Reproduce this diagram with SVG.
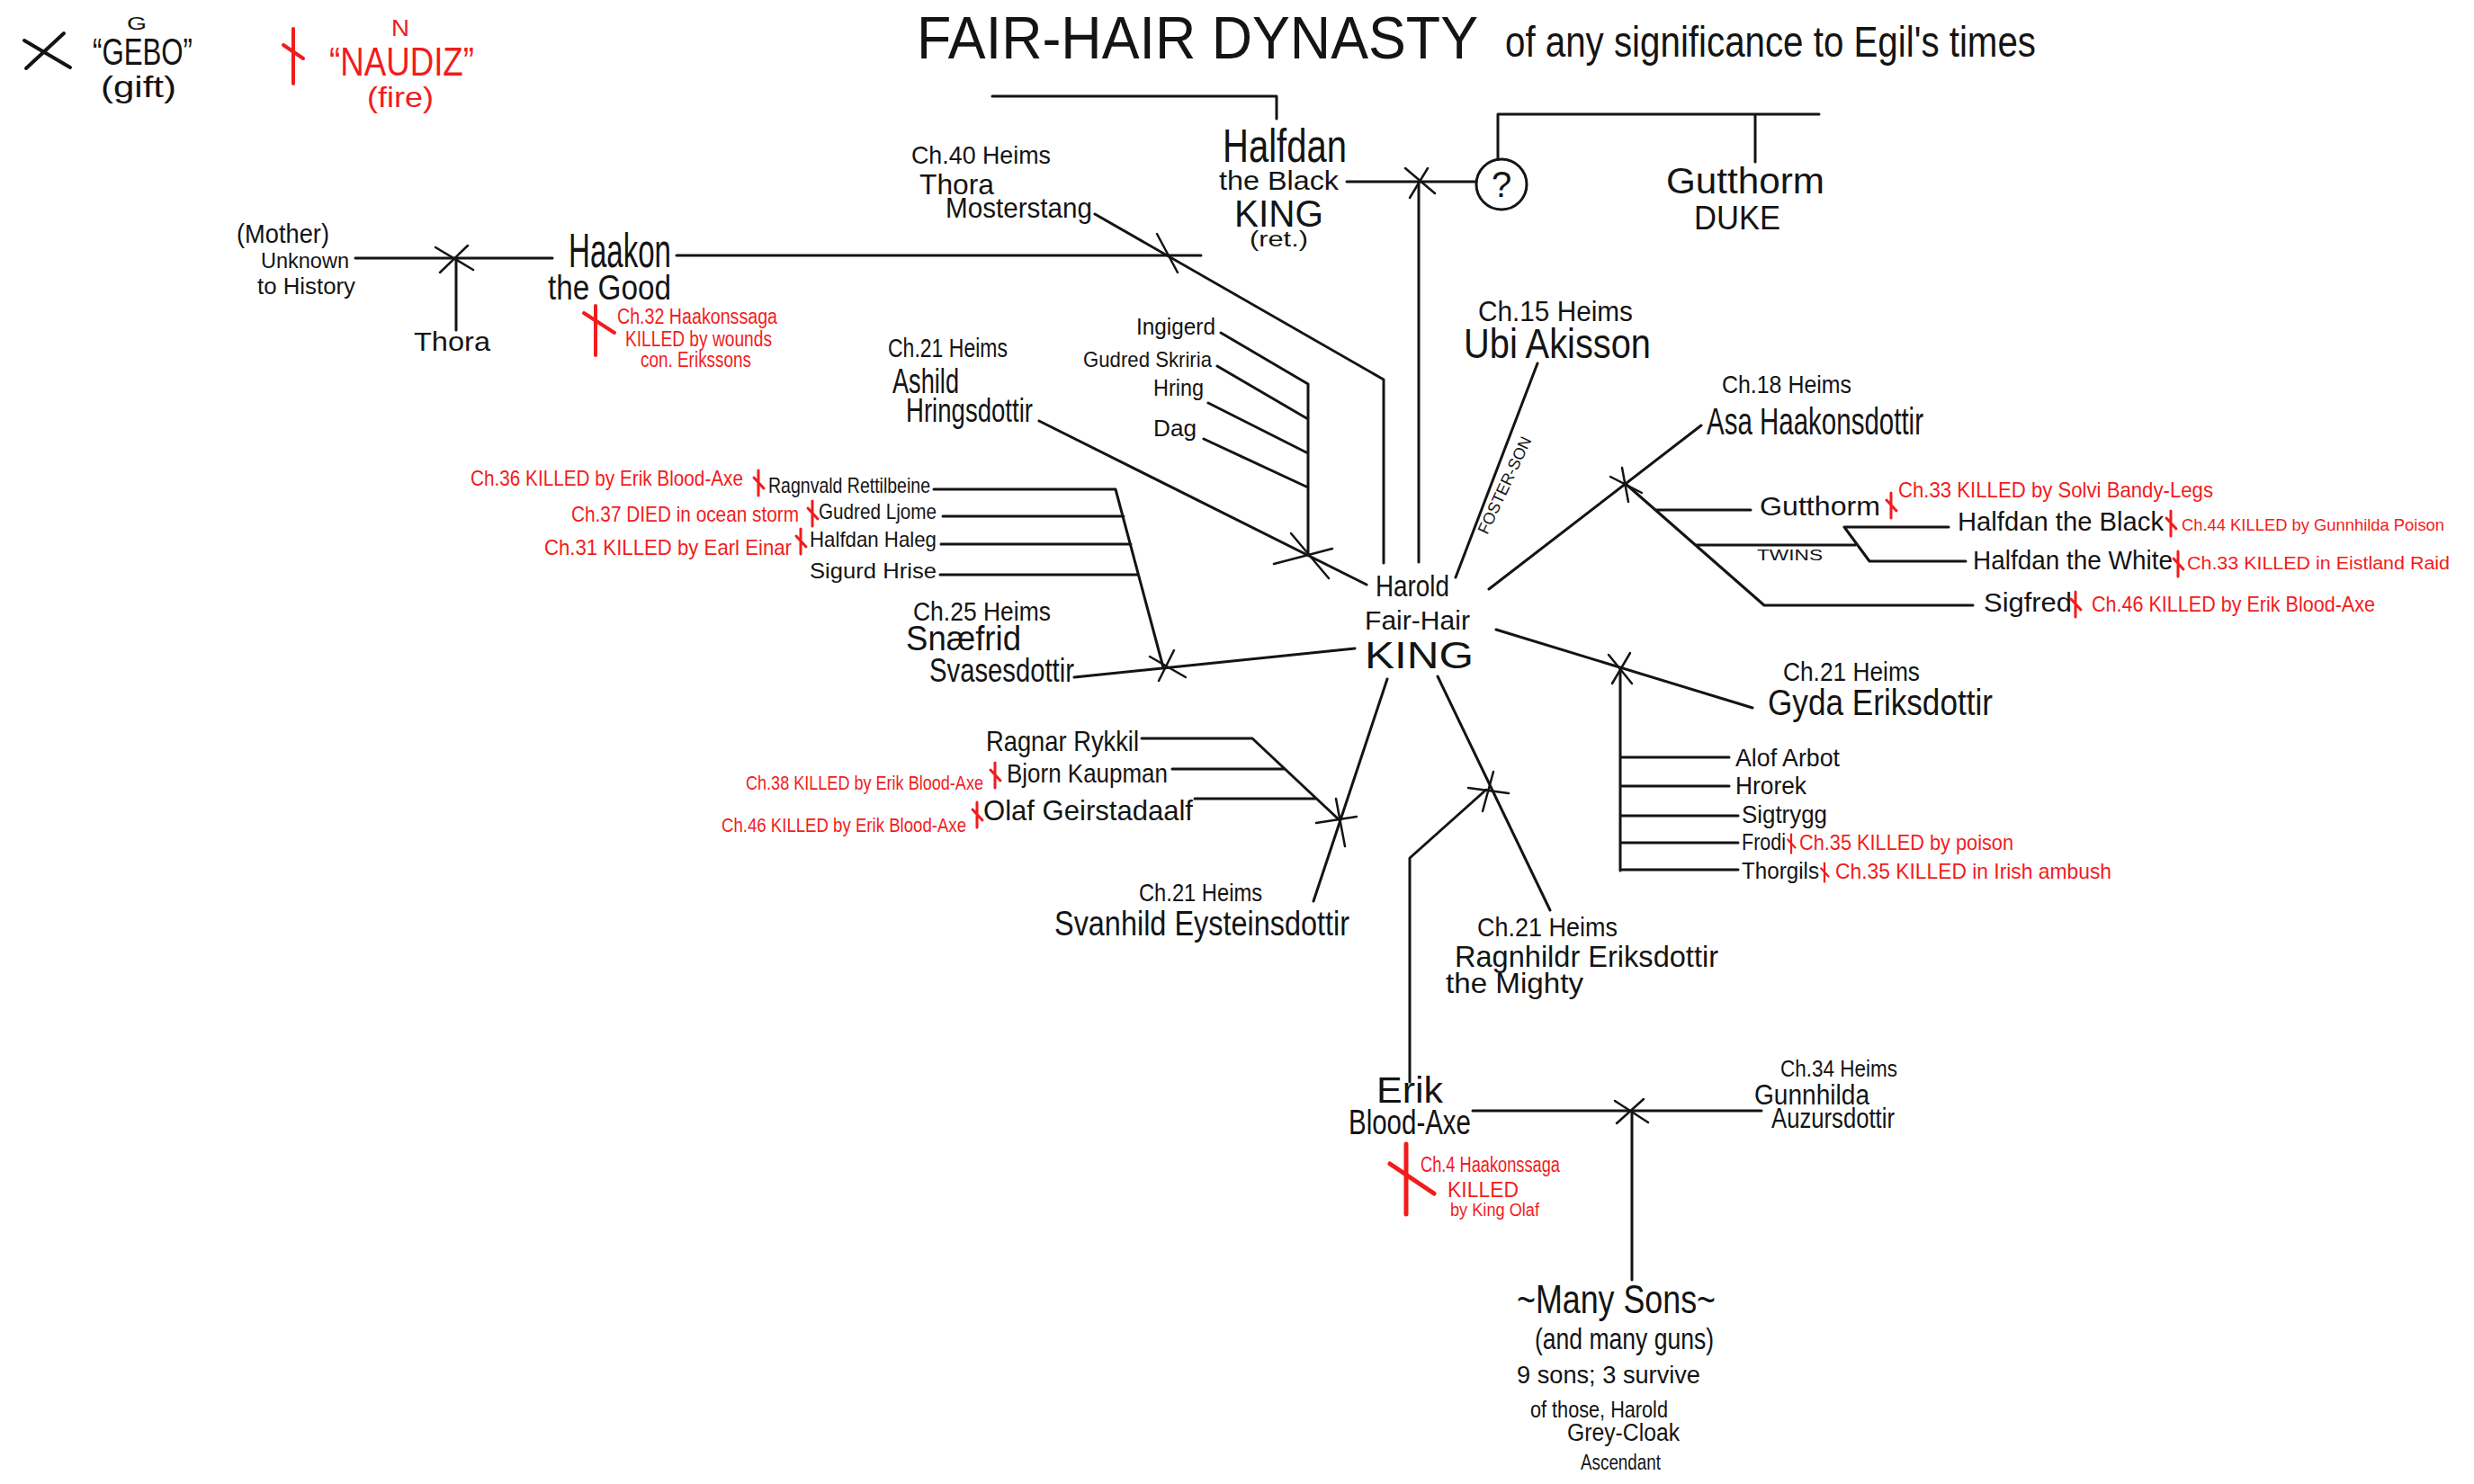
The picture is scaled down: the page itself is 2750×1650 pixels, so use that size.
<svg xmlns="http://www.w3.org/2000/svg" width="2750" height="1650" viewBox="0 0 2750 1650">
<style>
text{font-family:"Liberation Sans",Arial,sans-serif;fill:#141414}
.r{fill:#f21c1c}
.ln{stroke:#141414;stroke-width:3;fill:none;stroke-linecap:round;stroke-linejoin:round}
.x{stroke:#141414;stroke-width:2.5;fill:none;stroke-linecap:round}
.rn{stroke:#f21c1c;stroke-width:3;fill:none;stroke-linecap:round}
</style>
<defs>
<path id="nd" d="M0,-14V14M-5,-6L6,6"/>
</defs>
<rect width="2750" height="1650" fill="#ffffff"/>

<g id="connectors">
<path class="ln" d="M395,287H614"/>
<path class="ln" d="M507,287V367"/>
<path class="x" d="M489,303L520,273M484,275L526,300"/>
<path class="ln" d="M752,284H1335"/>
<path class="ln" d="M1217,238L1538,422V626"/>
<path class="x" d="M1286,260L1309,303"/>
<path class="ln" d="M1103,107H1419V132"/>
<path class="ln" d="M1497,202H1641"/>
<path class="x" d="M1562,187L1595,215M1567,220L1587,187"/>
<path class="ln" d="M1577,202V625"/>
<path class="ln" d="M1665,177V127H2022M1951,127V180"/>
<path class="ln" d="M1709,404L1618,642"/>
<path class="ln" d="M1357,370L1454,427V615M1353,407L1454,466M1343,448L1454,504M1338,488L1454,542"/>
<path class="ln" d="M1155,468L1519,650"/>
<path class="x" d="M1416,627L1481,610M1435,593L1477,643"/>
<path class="ln" d="M1038,544H1240L1293,742M1048,574H1249M1046,605H1257M1045,639H1265"/>
<path class="ln" d="M1194,753L1506,721"/>
<path class="x" d="M1278,730L1318,753M1305,723L1288,757"/>
<path class="ln" d="M1655,655L1891,473"/>
<path class="x" d="M1790,530L1825,548M1803,520L1810,558"/>
<path class="ln" d="M1807,538L1961,673H2193M1840,567H1946M1885,606H2062M2050,586H2166M2050,586L2078,624H2185"/>
<path class="ln" d="M1663,700L1948,787"/>
<path class="x" d="M1788,728L1814,760M1792,760L1812,726"/>
<path class="ln" d="M1801,743V968M1801,842H1922M1801,874H1922M1801,907H1932M1801,937H1932M1801,967H1932"/>
<path class="ln" d="M1598,752L1723,1012"/>
<path class="x" d="M1632,876L1677,882M1660,858L1648,902"/>
<path class="ln" d="M1652,878L1567,954V1203"/>
<path class="ln" d="M1542,755L1460,1002"/>
<path class="x" d="M1463,915L1508,908M1485,888L1495,941"/>
<path class="ln" d="M1269,821H1392L1489,912M1303,855H1428M1328,888H1463"/>
<path class="ln" d="M1637,1235H1958M1814,1235V1423"/>
<path class="x" d="M1797,1249L1827,1222M1795,1224L1832,1248"/>
</g>

<g id="legend-gebo">
<path d="M29,76L71,37M27,45L78,75" stroke="#141414" stroke-width="4" fill="none" stroke-linecap="round"/>
<text x="141" y="33" font-size="20" textLength="22" lengthAdjust="spacingAndGlyphs">G</text>
<text x="103" y="72" font-size="42" textLength="111" lengthAdjust="spacingAndGlyphs">“GEBO”</text>
<text x="112" y="108" font-size="34" textLength="84" lengthAdjust="spacingAndGlyphs">(gift)</text>
</g>

<g id="legend-naudiz">
<path d="M326,32V93M315,50L337,65" stroke="#f21c1c" stroke-width="4" fill="none" stroke-linecap="round"/>
<text class="r" x="435" y="40" font-size="26" textLength="20" lengthAdjust="spacingAndGlyphs">N</text>
<text class="r" x="366" y="84" font-size="44" textLength="161" lengthAdjust="spacingAndGlyphs">“NAUDIZ”</text>
<text class="r" x="408" y="119" font-size="32" textLength="74" lengthAdjust="spacingAndGlyphs">(fire)</text>
</g>

<g id="title">
<text x="1019" y="65" font-size="67" textLength="624" lengthAdjust="spacingAndGlyphs">FAIR-HAIR DYNASTY</text>
<text x="1673" y="63" font-size="48" textLength="590" lengthAdjust="spacingAndGlyphs">of any significance to Egil's times</text>
</g>

<g id="mother">
<text x="263" y="270" font-size="30" textLength="103" lengthAdjust="spacingAndGlyphs">(Mother)</text>
<text x="290" y="298" font-size="24" textLength="98" lengthAdjust="spacingAndGlyphs">Unknown</text>
<text x="286" y="327" font-size="26" textLength="109" lengthAdjust="spacingAndGlyphs">to History</text>
</g>

<g id="thora-daughter">
<text x="460" y="390" font-size="30" textLength="85" lengthAdjust="spacingAndGlyphs">Thora</text>
</g>

<g id="haakon">
<text x="632" y="297" font-size="54" textLength="114" lengthAdjust="spacingAndGlyphs">Haakon</text>
<text x="609" y="333" font-size="38" textLength="137" lengthAdjust="spacingAndGlyphs">the Good</text>
<path d="M662,340V395M649,348L683,370" stroke="#f21c1c" stroke-width="4" fill="none" stroke-linecap="round"/>
<text class="r" x="686" y="360" font-size="23" textLength="178" lengthAdjust="spacingAndGlyphs">Ch.32 Haakonssaga</text>
<text class="r" x="695" y="385" font-size="23" textLength="163" lengthAdjust="spacingAndGlyphs">KILLED by wounds</text>
<text class="r" x="712" y="408" font-size="23" textLength="123" lengthAdjust="spacingAndGlyphs">con. Erikssons</text>
</g>

<g id="thora-mosterstang">
<text x="1013" y="182" font-size="28" textLength="155" lengthAdjust="spacingAndGlyphs">Ch.40 Heims</text>
<text x="1022" y="216" font-size="32" textLength="83" lengthAdjust="spacingAndGlyphs">Thora</text>
<text x="1051" y="242" font-size="32" textLength="163" lengthAdjust="spacingAndGlyphs">Mosterstang</text>
</g>

<g id="halfdan-black">
<text x="1359" y="180" font-size="52" textLength="138" lengthAdjust="spacingAndGlyphs">Halfdan</text>
<text x="1355" y="211" font-size="30" textLength="133" lengthAdjust="spacingAndGlyphs">the Black</text>
<text x="1372" y="252" font-size="42" textLength="99" lengthAdjust="spacingAndGlyphs">KING</text>
<text x="1389" y="274" font-size="23" textLength="65" lengthAdjust="spacingAndGlyphs">(ret.)</text>
</g>

<g id="unknown-wife">
<circle cx="1669" cy="205" r="28" fill="none" stroke="#141414" stroke-width="3"/>
<text x="1669" y="219" font-size="40" text-anchor="middle">?</text>
</g>

<g id="gutthorm-duke">
<text x="1852" y="215" font-size="40" textLength="176" lengthAdjust="spacingAndGlyphs">Gutthorm</text>
<text x="1883" y="255" font-size="36" textLength="96" lengthAdjust="spacingAndGlyphs">DUKE</text>
</g>

<g id="ubi">
<text x="1643" y="357" font-size="32" textLength="172" lengthAdjust="spacingAndGlyphs">Ch.15 Heims</text>
<text x="1627" y="398" font-size="46" textLength="208" lengthAdjust="spacingAndGlyphs">Ubi Akisson</text>
<text transform="translate(1678,542) rotate(-65)" font-size="18" text-anchor="middle" textLength="117" lengthAdjust="spacingAndGlyphs">FOSTER-SON</text>
</g>

<g id="ashild-children">
<text x="1263" y="372" font-size="26" textLength="88" lengthAdjust="spacingAndGlyphs">Ingigerd</text>
<text x="1204" y="408" font-size="24" textLength="143" lengthAdjust="spacingAndGlyphs">Gudred Skriria</text>
<text x="1282" y="440" font-size="26" textLength="56" lengthAdjust="spacingAndGlyphs">Hring</text>
<text x="1282" y="485" font-size="26" textLength="48" lengthAdjust="spacingAndGlyphs">Dag</text>
</g>

<g id="ashild">
<text x="987" y="397" font-size="30" textLength="133" lengthAdjust="spacingAndGlyphs">Ch.21 Heims</text>
<text x="992" y="437" font-size="38" textLength="74" lengthAdjust="spacingAndGlyphs">Ashild</text>
<text x="1007" y="469" font-size="36" textLength="141" lengthAdjust="spacingAndGlyphs">Hringsdottir</text>
</g>

<g id="snaefrid-children">
<text class="r" x="523" y="540" font-size="24" textLength="303" lengthAdjust="spacingAndGlyphs">Ch.36 KILLED by Erik Blood-Axe</text>
<use href="#nd" class="rn" x="843" y="537"/>
<text x="854" y="548" font-size="24" textLength="180" lengthAdjust="spacingAndGlyphs">Ragnvald Rettilbeine</text>
<text class="r" x="635" y="580" font-size="24" textLength="253" lengthAdjust="spacingAndGlyphs">Ch.37 DIED in ocean storm</text>
<use href="#nd" class="rn" x="903" y="571"/>
<text x="910" y="577" font-size="24" textLength="131" lengthAdjust="spacingAndGlyphs">Gudred Ljome</text>
<text class="r" x="605" y="617" font-size="24" textLength="275" lengthAdjust="spacingAndGlyphs">Ch.31 KILLED by Earl Einar</text>
<use href="#nd" class="rn" x="890" y="602"/>
<text x="900" y="608" font-size="24" textLength="141" lengthAdjust="spacingAndGlyphs">Halfdan Haleg</text>
<text x="900" y="643" font-size="24" textLength="141" lengthAdjust="spacingAndGlyphs">Sigurd Hrise</text>
</g>

<g id="snaefrid">
<text x="1015" y="690" font-size="30" textLength="153" lengthAdjust="spacingAndGlyphs">Ch.25 Heims</text>
<text x="1007" y="723" font-size="38" textLength="128" lengthAdjust="spacingAndGlyphs">Snæfrid</text>
<text x="1033" y="758" font-size="36" textLength="161" lengthAdjust="spacingAndGlyphs">Svasesdottir</text>
</g>

<g id="harold">
<text x="1529" y="663" font-size="34" textLength="82" lengthAdjust="spacingAndGlyphs">Harold</text>
<text x="1517" y="700" font-size="30" textLength="117" lengthAdjust="spacingAndGlyphs">Fair-Hair</text>
<text x="1517" y="743" font-size="42" textLength="121" lengthAdjust="spacingAndGlyphs">KING</text>
</g>

<g id="asa">
<text x="1914" y="437" font-size="28" textLength="144" lengthAdjust="spacingAndGlyphs">Ch.18 Heims</text>
<text x="1897" y="483" font-size="42" textLength="241" lengthAdjust="spacingAndGlyphs">Asa Haakonsdottir</text>
</g>

<g id="asa-children">
<text x="1956" y="573" font-size="30" textLength="134" lengthAdjust="spacingAndGlyphs">Gutthorm</text>
<use href="#nd" class="rn" x="2102" y="562"/>
<text class="r" x="2110" y="553" font-size="24" textLength="350" lengthAdjust="spacingAndGlyphs">Ch.33 KILLED by Solvi Bandy-Legs</text>
<text x="2176" y="590" font-size="30" textLength="229" lengthAdjust="spacingAndGlyphs">Halfdan the Black</text>
<use href="#nd" class="rn" x="2413" y="582"/>
<text class="r" x="2425" y="590" font-size="19" textLength="292" lengthAdjust="spacingAndGlyphs">Ch.44 KILLED by Gunnhilda Poison</text>
<text x="1953" y="623" font-size="16" textLength="73" lengthAdjust="spacingAndGlyphs">TWINS</text>
<text x="2193" y="633" font-size="30" textLength="222" lengthAdjust="spacingAndGlyphs">Halfdan the White</text>
<use href="#nd" class="rn" x="2421" y="627"/>
<text class="r" x="2431" y="633" font-size="20" textLength="292" lengthAdjust="spacingAndGlyphs">Ch.33 KILLED in Eistland Raid</text>
<text x="2205" y="680" font-size="30" textLength="98" lengthAdjust="spacingAndGlyphs">Sigfred</text>
<use href="#nd" class="rn" x="2307" y="672"/>
<text class="r" x="2325" y="680" font-size="24" textLength="315" lengthAdjust="spacingAndGlyphs">Ch.46 KILLED by Erik Blood-Axe</text>
</g>

<g id="gyda">
<text x="1982" y="757" font-size="30" textLength="152" lengthAdjust="spacingAndGlyphs">Ch.21 Heims</text>
<text x="1965" y="795" font-size="40" textLength="250" lengthAdjust="spacingAndGlyphs">Gyda Eriksdottir</text>
</g>

<g id="gyda-children">
<text x="1929" y="852" font-size="28" textLength="116" lengthAdjust="spacingAndGlyphs">Alof Arbot</text>
<text x="1929" y="883" font-size="28" textLength="79" lengthAdjust="spacingAndGlyphs">Hrorek</text>
<text x="1936" y="915" font-size="28" textLength="95" lengthAdjust="spacingAndGlyphs">Sigtrygg</text>
<text x="1936" y="945" font-size="26" textLength="49" lengthAdjust="spacingAndGlyphs">Frodi</text>
<use href="#nd" class="rn" x="1991" y="938" transform="translate(497.75,234.5) scale(0.75)"/>
<text class="r" x="2000" y="945" font-size="24" textLength="238" lengthAdjust="spacingAndGlyphs">Ch.35 KILLED by poison</text>
<text x="1936" y="977" font-size="26" textLength="86" lengthAdjust="spacingAndGlyphs">Thorgils</text>
<use href="#nd" class="rn" x="2028" y="970" transform="translate(507,242.5) scale(0.75)"/>
<text class="r" x="2040" y="977" font-size="24" textLength="307" lengthAdjust="spacingAndGlyphs">Ch.35 KILLED in Irish ambush</text>
</g>

<g id="svanhild-children">
<text x="1096" y="835" font-size="32" textLength="170" lengthAdjust="spacingAndGlyphs">Ragnar Rykkil</text>
<text class="r" x="829" y="878" font-size="22" textLength="264" lengthAdjust="spacingAndGlyphs">Ch.38 KILLED by Erik Blood-Axe</text>
<use href="#nd" class="rn" x="1106" y="862"/>
<text x="1119" y="870" font-size="30" textLength="179" lengthAdjust="spacingAndGlyphs">Bjorn Kaupman</text>
<text class="r" x="802" y="925" font-size="22" textLength="272" lengthAdjust="spacingAndGlyphs">Ch.46 KILLED by Erik Blood-Axe</text>
<use href="#nd" class="rn" x="1086" y="906"/>
<text x="1093" y="912" font-size="32" textLength="233" lengthAdjust="spacingAndGlyphs">Olaf Geirstadaalf</text>
</g>

<g id="svanhild">
<text x="1266" y="1002" font-size="28" textLength="137" lengthAdjust="spacingAndGlyphs">Ch.21 Heims</text>
<text x="1172" y="1040" font-size="38" textLength="328" lengthAdjust="spacingAndGlyphs">Svanhild Eysteinsdottir</text>
</g>

<g id="ragnhildr">
<text x="1642" y="1041" font-size="30" textLength="156" lengthAdjust="spacingAndGlyphs">Ch.21 Heims</text>
<text x="1617" y="1075" font-size="34" textLength="293" lengthAdjust="spacingAndGlyphs">Ragnhildr Eriksdottir</text>
<text x="1607" y="1104" font-size="32" textLength="153" lengthAdjust="spacingAndGlyphs">the Mighty</text>
</g>

<g id="erik">
<text x="1530" y="1226" font-size="40" textLength="74" lengthAdjust="spacingAndGlyphs">Erik</text>
<text x="1499" y="1261" font-size="38" textLength="136" lengthAdjust="spacingAndGlyphs">Blood-Axe</text>
<path d="M1563,1272V1350M1545,1294L1594,1327" stroke="#f21c1c" stroke-width="5" fill="none" stroke-linecap="round"/>
<text class="r" x="1579" y="1303" font-size="23" textLength="155" lengthAdjust="spacingAndGlyphs">Ch.4 Haakonssaga</text>
<text class="r" x="1609" y="1331" font-size="23" textLength="79" lengthAdjust="spacingAndGlyphs">KILLED</text>
<text class="r" x="1612" y="1352" font-size="20" textLength="99" lengthAdjust="spacingAndGlyphs">by King Olaf</text>
</g>

<g id="gunnhilda">
<text x="1979" y="1197" font-size="26" textLength="130" lengthAdjust="spacingAndGlyphs">Ch.34 Heims</text>
<text x="1950" y="1228" font-size="31" textLength="128" lengthAdjust="spacingAndGlyphs">Gunnhilda</text>
<text x="1969" y="1254" font-size="31" textLength="137" lengthAdjust="spacingAndGlyphs">Auzursdottir</text>
</g>

<g id="many-sons">
<text x="1686" y="1460" font-size="44" textLength="221" lengthAdjust="spacingAndGlyphs">~Many Sons~</text>
<text x="1706" y="1500" font-size="34" textLength="199" lengthAdjust="spacingAndGlyphs">(and many guns)</text>
<text x="1686" y="1538" font-size="28" textLength="204" lengthAdjust="spacingAndGlyphs">9 sons; 3 survive</text>
<text x="1701" y="1576" font-size="25" textLength="153" lengthAdjust="spacingAndGlyphs">of those, Harold</text>
<text x="1742" y="1602" font-size="27" textLength="125" lengthAdjust="spacingAndGlyphs">Grey-Cloak</text>
<text x="1757" y="1634" font-size="23" textLength="89" lengthAdjust="spacingAndGlyphs">Ascendant</text>
</g>
</svg>
